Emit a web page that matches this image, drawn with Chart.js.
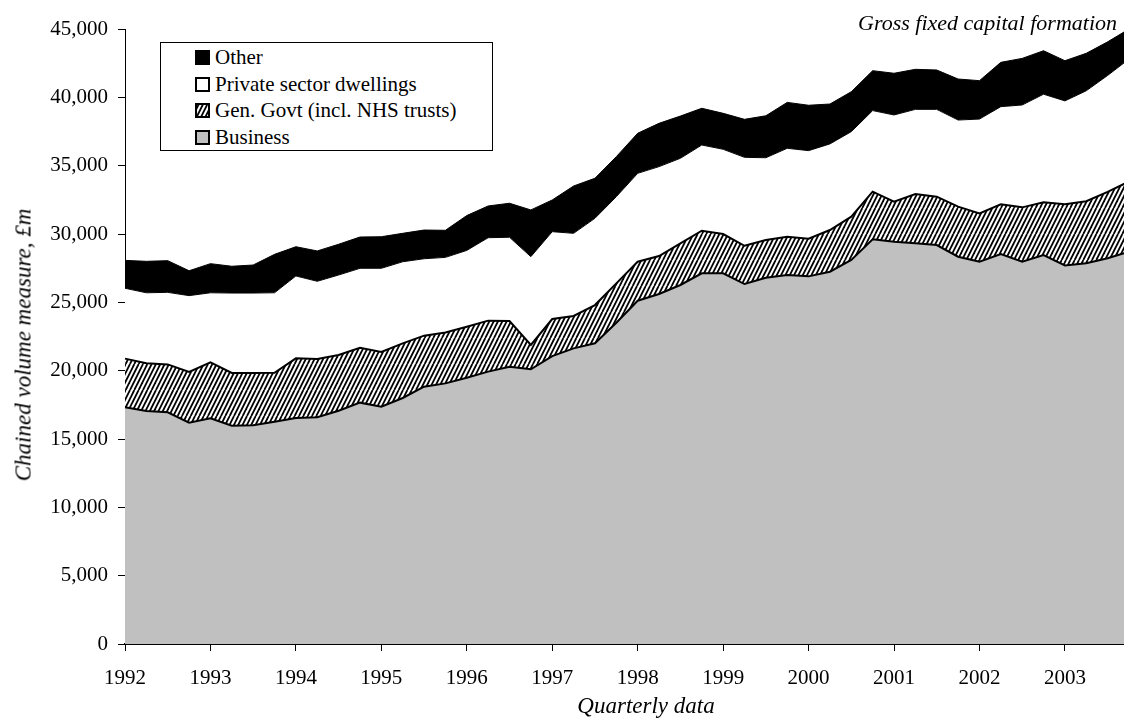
<!DOCTYPE html>
<html>
<head>
<meta charset="utf-8">
<script src="https://cdn.jsdelivr.net/npm/chart.js@4/dist/chart.umd.min.js"></script>
<style>
  html, body { margin: 0; padding: 0; background: #fff; overflow: hidden; }
  #wrap { position: relative; width: 1129px; height: 718px; font-family: 'Liberation Serif', 'Times New Roman', serif; color: #000; }
  #chart { position: absolute; left: 0; top: 0; }
  .txt { position: absolute; white-space: nowrap; }
  .it { font-style: italic; }
  #legend { position: absolute; left: 160px; top: 42px; width: 331px; height: 107px; border: 1px solid #000; background: #fff; }
  #legend .row { position: absolute; left: 34px; height: 21px; }
  #legend canvas { position: absolute; left: 0; top: 3px; }
  #legend span { position: absolute; left: 20px; top: 0; font-size: 21px; line-height: 21px; white-space: nowrap; }
</style>
</head>
<body>
<div id="wrap">
  <canvas id="chart" width="1129" height="718"></canvas>
  <div id="legend"></div>
  <div class="txt it" id="note" style="right:12px; top:12px; font-size:22px; line-height:22px;">Gross fixed capital formation</div>
  <div class="txt it" id="xTitle" style="left:646px; top:694px; font-size:23px; line-height:23px; transform:translateX(-50%);">Quarterly data</div>
  <div class="txt it" id="yTitle" style="left:23px; top:345px; font-size:23px; line-height:23px; transform:translate(-50%,-50%) rotate(-90deg);">Chained volume measure, £m</div>
</div>
<script>
// Quarterly data, 1992 Q1 – 2003 Q4, chained volume measure (£m)
const years = ['1992','1993','1994','1995','1996','1997','1998','1999','2000','2001','2002','2003'];
const quarters = years.flatMap(y => ['Q1','Q2','Q3','Q4'].map(q => y + ' ' + q));

const business = [17320,17050,16950,16190,16510,15970,16000,16270,16540,16590,
                  17070,17660,17360,18000,18830,19070,19480,19930,20290,20100,
                  21070,21630,22000,23510,25120,25610,26270,27120,27120,26340,
                  26800,27000,26900,27240,28100,29610,29440,29320,29190,28340,
                  27970,28540,27970,28460,27700,27860,28220,28700];
const genGovt = [3560,3490,3510,3710,4100,3860,3830,3580,4360,4260,
                 4080,4020,4010,4000,3730,3730,3740,3730,3340,1780,
                 2710,2370,2800,2880,2850,2780,3050,3120,2880,2800,
                 2760,2800,2750,3050,3170,3490,2930,3610,3540,3660,
                 3540,3630,3980,3860,4480,4540,4860,5140];
const privateDwellings = [5150,5160,5270,5590,5090,5850,5850,5850,6030,5690,
                          5850,5810,6120,5970,5630,5490,5580,6070,6130,6460,
                          6390,6050,6350,6340,6470,6540,6220,6270,6200,6470,
                          6020,6470,6450,6300,6220,5930,6340,6190,6390,6340,
                          6900,7150,7490,7910,7560,8080,8520,8960];
const other = [2040,2300,2320,1820,2130,1960,2050,2810,2140,2220,
               2250,2290,2310,2080,2100,1980,2550,2320,2490,3420,
               2320,3460,2930,2930,2930,3170,3090,2690,2630,2780,
               3070,3360,3320,2920,2920,2920,3050,2930,2880,3000,
               2810,3240,3410,3180,2940,2740,2460,2200];

const seriesLabels = ['Business', 'Gen. Govt (incl. NHS trusts)', 'Private sector dwellings', 'Other'];
const yMax = 45000;
const yStep = 5000;

const FONT = "'Liberation Serif', 'Times New Roman', serif";

// Upward diagonal hatch used for general government
function makeHatch() {
  const c = document.createElement('canvas');
  c.width = 13; c.height = 26;
  const g = c.getContext('2d');
  g.fillStyle = '#fff';
  g.fillRect(0, 0, 13, 26);
  g.strokeStyle = '#000';
  g.lineWidth = 1.8;
  for (let k = -4; k <= 7; k++) {
    const x0 = k * 13 / 3;
    g.beginPath();
    g.moveTo(x0, 26);
    g.lineTo(x0 + 13, 0);
    g.stroke();
  }
  return document.getElementById('chart').getContext('2d').createPattern(c, 'repeat');
}
const hatch = makeHatch();

const fills = ['#c0c0c0', hatch, '#ffffff', '#000000'];
const values = [business, genGovt, privateDwellings, other];
const borders = [2, 2, 1, 1];

const datasets = values.map((v, i) => ({
  label: seriesLabels[i],
  data: v,
  backgroundColor: fills[i],
  borderColor: '#000',
  borderWidth: borders[i],
  fill: i === 0 ? 'origin' : '-1',
  pointRadius: 0,
  tension: 0
}));

const chart = new Chart(document.getElementById('chart'), {
  type: 'line',
  data: { labels: quarters, datasets },
  options: {
    responsive: false,
    animation: false,
    layout: { padding: { top: 29, right: 0, left: 0, bottom: 0 } },
    plugins: { legend: { display: false }, tooltip: { enabled: false } },
    scales: {
      x: {
        type: 'category',
        afterFit: s => { s.height = 74; s.paddingLeft = 0; s.paddingRight = 0; },
        border: { display: true, color: '#000', width: 2 },
        grid: {
          drawOnChartArea: false,
          drawTicks: true,
          tickLength: 7,
          lineWidth: 1,
          color: ctx => (ctx.index % 4 === 0 ? '#000' : 'rgba(0,0,0,0)')
        },
        ticks: {
          autoSkip: false,
          maxRotation: 0,
          minRotation: 0,
          padding: 15,
          color: '#000',
          font: { family: FONT, size: 21 },
          callback: (v, i) => (i % 4 === 0 ? years[i / 4] : '')
        }
      },
      y: {
        stacked: true,
        min: 0,
        max: yMax,
        afterFit: s => { s.width = 125; },
        border: { display: true, color: '#000', width: 1 },
        grid: { drawOnChartArea: false, drawTicks: true, tickLength: 7, color: '#000', lineWidth: 1 },
        ticks: {
          stepSize: yStep,
          padding: 10,
          color: '#000',
          font: { family: FONT, size: 21 },
          callback: v => Number(v).toLocaleString('en-US')
        }
      }
    }
  }
});

// Legend box, listed top-down in stacking order
const legend = document.getElementById('legend');
const rowTops = [4, 31, 57, 84];
datasets.slice().reverse().forEach((ds, r) => {
  const row = document.createElement('div');
  row.className = 'row';
  row.style.top = rowTops[r] + 'px';
  const sw = document.createElement('canvas');
  sw.width = 15; sw.height = 15;
  const g = sw.getContext('2d');
  g.fillStyle = ds.backgroundColor;
  g.fillRect(0, 0, 15, 15);
  g.strokeStyle = '#000';
  g.lineWidth = 2;
  g.strokeRect(1, 1, 13, 13);
  const label = document.createElement('span');
  label.textContent = ds.label;
  row.appendChild(sw);
  row.appendChild(label);
  legend.appendChild(row);
});
</script>
</body>
</html>
